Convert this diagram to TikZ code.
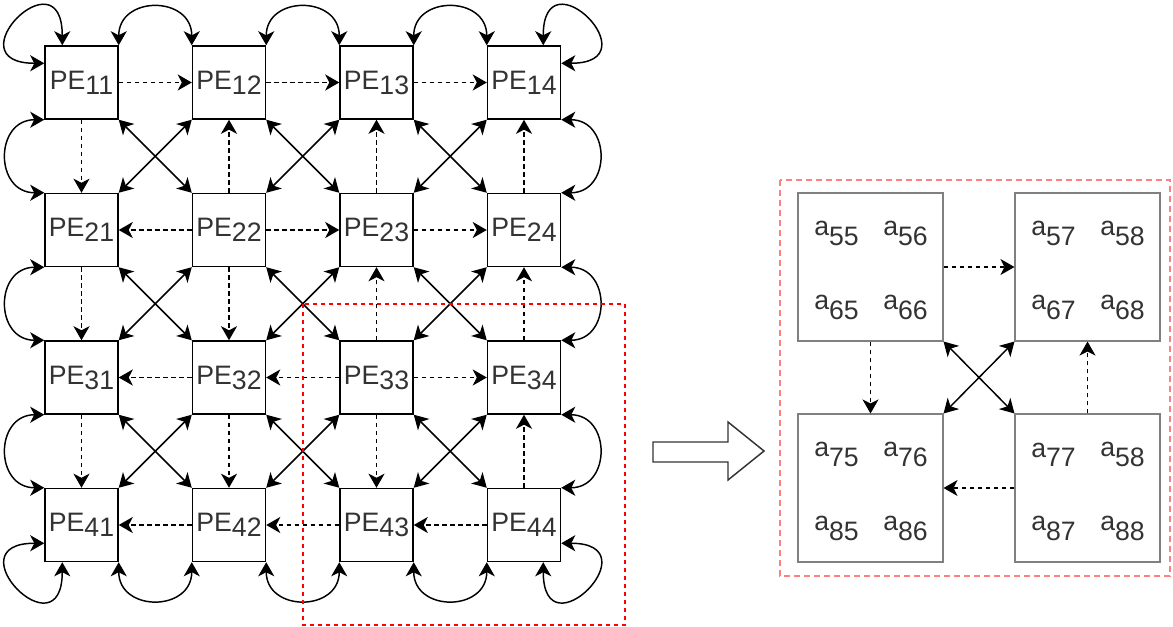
\documentclass[tikz,border=0pt]{standalone}
\usepackage{fontspec}
\setmainfont{Liberation Sans}
\usetikzlibrary{arrows.meta,calc}
\definecolor{Ink}{HTML}{333333}
\definecolor{Frame}{HTML}{808080}
\definecolor{Zone}{HTML}{FF0000}
\definecolor{ZoneLight}{HTML}{FF8080}
\newcommand{\low}[2][-3.75pt]{\raisebox{#1}{#2}}

\begin{document}
\begin{tikzpicture}[x=0.75pt,y=-0.75pt,font=\fontsize{20}{24}\selectfont,
    head/.tip={Stealth[length=10.5pt,width=12pt,inset=3pt]},
    pe/.style={draw,line width=1.1pt,minimum size=54.75pt,inner sep=0pt,text=Ink},
    blk/.style={draw=Frame,line width=0.8pt,minimum width=108.75pt,minimum height=111pt,inner sep=0pt},
    cell/.style={text=Ink,inner sep=0pt},
    dlink/.style={-head,line width=1pt,dash pattern=on 3.5pt off 2.5pt},
    cross/.style={head-head,line width=1.1pt},
    wrap/.style={head-head,line width=1.1pt}]
  \useasboundingbox (0,0) rectangle (1173,627);

  % PE array
  \foreach \r in {1,...,4}
    \foreach \c in {1,...,4}
      \node[pe] (p\r\c) at ({81.5+147.5*(\c-1)},{82.5+147.5*(\r-1)}) {PE\low{\r\c}};

  % dashed neighbour links
  \foreach \pa/\pb in {11/12,12/13,13/14,22/21,22/23,23/24,32/31,33/32,33/34,42/41,43/42,44/43,
      11/21,21/31,31/41,22/12,22/32,32/42,23/13,33/23,33/43,24/14,34/24,44/34}
    \draw[dlink] (p\pa) -- (p\pb);

  % diagonal links
  \foreach \r/\s in {1/2,2/3,3/4}
    \foreach \c/\d in {1/2,2/3,3/4} {
      \draw[cross] (p\r\c.south east) -- (p\s\d.north west);
      \draw[cross] (p\r\d.south west) -- (p\s\c.north east);
    }

  % wrap-around links
  \foreach \c/\d in {1/2,2/3,3/4} {
    \draw[wrap] (p1\c.north east) .. controls +(0,-50) and +(0,-50) .. (p1\d.north west);
    \draw[wrap] (p4\c.south east) .. controls +(0,50) and +(0,50) .. (p4\d.south west);
    \draw[wrap] (p\c1.south west) .. controls +(-50,0) and +(-50,0) .. (p\d1.north west);
    \draw[wrap] (p\c4.south east) .. controls +(50,0) and +(50,0) .. (p\d4.north east);
  }
  \draw[wrap] ($(p11.north west)+(0,18)$) .. controls +(-93,0) and +(0,-94) .. ($(p11.north west)+(18,0)$);
  \draw[wrap] ($(p14.north east)+(-18,0)$) .. controls +(0,-94) and +(93,0) .. ($(p14.north east)+(0,18)$);
  \draw[wrap] ($(p41.south west)+(0,-19)$) .. controls +(-93,0) and +(0,94) .. ($(p41.south west)+(18,0)$);
  \draw[wrap] ($(p44.south east)+(-18,0)$) .. controls +(0,94) and +(93,0) .. ($(p44.south east)+(0,-19)$);

  \draw[Zone,line width=1pt,dash pattern=on 3pt off 3pt] (303,304) rectangle (625,625);

  % zoom arrow
  \draw[Ink,line width=1.1pt,line join=miter] (653,442) -- (728,442) -- (728,422) -- (764,451)
    -- (728,480) -- (728,462) -- (653,462) -- cycle;

  % zoomed block
  \draw[ZoneLight,line width=1.1pt,dash pattern=on 4.5pt off 3pt] (780,180) rectangle (1170,576);
  \node[blk] (b1) at (870.5,267) {};
  \node[blk] (b2) at (1087.5,267) {};
  \node[blk] (b3) at (870.5,488) {};
  \node[blk] (b4) at (1087.5,488) {};
  \foreach \bx/\ea/\eb/\ec/\ed in {b1/55/56/65/66,b2/57/58/67/68,b3/75/76/85/86,b4/77/58/87/88} {
    \node[cell] (\bx tl) at ($(\bx)+(-34,-33.5)$) {a\low[-7pt]{\ea}};
    \node[cell] (\bx tr) at ($(\bx)+(35,-33.5)$) {a\low[-7pt]{\eb}};
    \node[cell] (\bx bl) at ($(\bx)+(-34,40.5)$) {a\low[-7pt]{\ec}};
    \node[cell] (\bx br) at ($(\bx)+(35,40.5)$) {a\low[-7pt]{\ed}};
  }
  \draw[dlink] (b1) -- (b2);
  \draw[dlink] (b1) -- (b3);
  \draw[dlink] (b4) -- (b2);
  \draw[dlink] (b4) -- (b3);
  \draw[cross] (b1.south east) -- (b4.north west);
  \draw[cross] (b2.south west) -- (b3.north east);
\end{tikzpicture}
\end{document}
